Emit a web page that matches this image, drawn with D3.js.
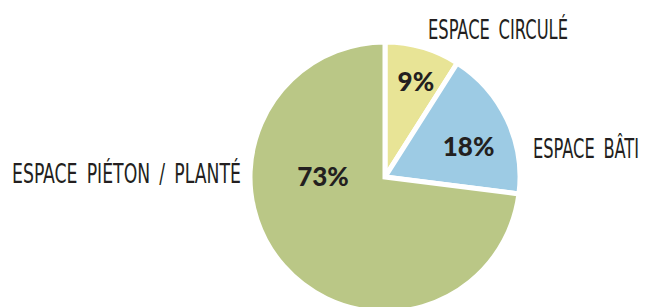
<!DOCTYPE html>
<html>
<head>
<meta charset="utf-8">
<script src="https://cdn.jsdelivr.net/npm/d3@7"></script>
<style>
  body { margin: 0; background: #fff; }
  .pct { font-family: Lato, "DejaVu Sans", sans-serif; font-weight: 900; font-size: 26px; fill: #231f20; }
  .cat { font-family: "Liberation Sans Narrow", "DejaVu Sans Condensed", sans-serif; font-size: 26px; fill: #231f20; word-spacing: 5px; }
</style>
</head>
<body>
<div id="chart"></div>
<script>
"use strict";

var categories = ["ESPACE CIRCULÉ", "ESPACE BÂTI", "ESPACE PIÉTON / PLANTÉ"];
var values = [9, 18, 73];
var colors = ["#e8e496", "#9dcbe4", "#bac786"];

var width = 646, height = 307;
var cx = 385, cy = 177, radius = 135;

var svg = d3.select("#chart").append("svg")
  .attr("width", width)
  .attr("height", height);

var g = svg.append("g").attr("transform", "translate(" + cx + "," + cy + ")");

var pie = d3.pie().sort(null).value(function(d) { return d; });
var arcs = pie(values);

var arc = d3.arc().innerRadius(0).outerRadius(radius);

g.selectAll("path")
  .data(arcs)
  .enter().append("path")
  .attr("d", arc)
  .attr("fill", function(d, i) { return colors[i]; })
  .attr("stroke", "#fff")
  .attr("stroke-width", 5)
  .attr("stroke-linejoin", "miter");

// placement des pourcentages : angle (degres depuis midi) et rayon
var pctPos = [[18, 100], [70, 89], [270, 62]];

g.selectAll("text.pct")
  .data(arcs)
  .enter().append("text")
  .attr("class", "pct")
  .attr("text-anchor", "middle")
  .attr("x", function(d, i) { return Math.sin(pctPos[i][0] * Math.PI / 180) * pctPos[i][1]; })
  .attr("y", function(d, i) { return -Math.cos(pctPos[i][0] * Math.PI / 180) * pctPos[i][1] + 9; })
  .text(function(d) { return d.data + "%"; });

// etiquettes des categories
var catPos = [
  { x: 428, y: 39, anchor: "start", len: 140 },
  { x: 533, y: 158, anchor: "start", len: 106 },
  { x: 241, y: 183, anchor: "end", len: 229 }
];

svg.selectAll("text.cat")
  .data(categories)
  .enter().append("text")
  .attr("class", "cat")
  .attr("x", function(d, i) { return catPos[i].x; })
  .attr("y", function(d, i) { return catPos[i].y; })
  .attr("text-anchor", function(d, i) { return catPos[i].anchor; })
  .attr("textLength", function(d, i) { return catPos[i].len; })
  .attr("lengthAdjust", "spacingAndGlyphs")
  .text(function(d) { return d; });
</script>
</body>
</html>
